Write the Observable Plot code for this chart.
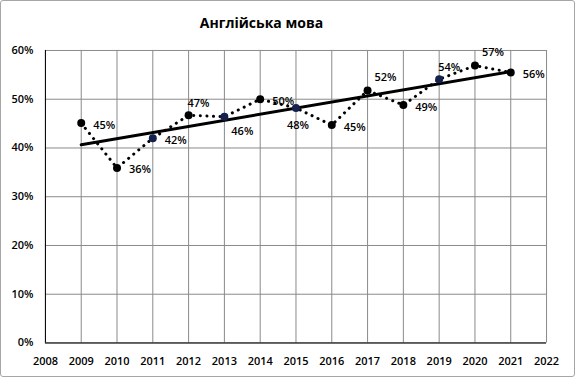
<!DOCTYPE html>
<html>
<head>
<meta charset="utf-8">
<script src="https://cdn.jsdelivr.net/npm/d3@7"></script>
<script src="https://cdn.jsdelivr.net/npm/@observablehq/plot@0.6"></script>
<style>
  html, body { margin: 0; padding: 0; background: #fff; }
  #wrap {
    position: relative; width: 575px; height: 377px; box-sizing: border-box;
    border: 1px solid #a6a6a6; border-radius: 3px; background: #fff; overflow: hidden;
  }
  #title {
    height: 40px; line-height: 44px; text-align: center; box-sizing: border-box;
    font-family: "Open Sans", sans-serif; font-weight: 700; font-size: 14px; color: #000;
    padding-right: 52px;
  }
  #chart { position: absolute; left: -1px; top: 39px; }
</style>
</head>
<body>
<div id="wrap">
  <div id="title">Англійська мова</div>
  <div id="chart"></div>
</div>
<script>
// Data
const years  = [2009, 2010, 2011, 2012, 2013, 2014, 2015, 2016, 2017, 2018, 2019, 2020, 2021];
const values = [0.451, 0.359, 0.420, 0.467, 0.464, 0.500, 0.482, 0.447, 0.518, 0.488, 0.541, 0.569, 0.555];
const labelPlacement = ["right", "right", "right", "up", "downRight", "right", "down", "right", "upRight", "right", "up", "upRight", "right"];
const xTicks = d3.range(2008, 2023);
const yTicks = [0, 0.1, 0.2, 0.3, 0.4, 0.5, 0.6];

// Style
const navyYears = new Set([2011, 2013, 2015, 2019]);
const offsets = {
  right: {dx: 23, dy: 2},
  up: {dx: 10, dy: -12},
  upRight: {dx: 18, dy: -13},
  downRight: {dx: 18, dy: 15},
  down: {dx: 2, dy: 18}
};

const data = years.map((year, i) => ({year, value: values[i], place: labelPlacement[i]}));
const pct = d3.format(".0%");

const labelMarks = Object.entries(offsets).map(([key, o]) =>
  Plot.text(data.filter(d => d.place === key), {
    x: "year", y: "value", text: d => pct(d.value),
    dx: o.dx, dy: o.dy, fill: "#000", fontSize: 11, fontWeight: 600, textAnchor: "middle"
  })
);

const chart = Plot.plot({
  width: 575,
  height: 338,
  marginLeft: 45,
  marginRight: 28,
  marginTop: 10,
  marginBottom: 35,
  style: {fontFamily: "'Open Sans', sans-serif", fontSize: "11px", color: "#000", background: "transparent", overflow: "visible"},
  x: {domain: [2008, 2022], ticks: xTicks, tickFormat: "d"},
  y: {domain: [0, 0.6], ticks: yTicks, tickFormat: ".0%"},
  marks: [
    Plot.gridX(xTicks, {stroke: "#8a8a8a", strokeOpacity: 1, strokeWidth: 1}),
    Plot.gridY(yTicks, {stroke: "#8a8a8a", strokeOpacity: 1, strokeWidth: 1}),
    Plot.ruleX([2008], {stroke: "#000", strokeWidth: 1}),
    Plot.ruleY([0], {stroke: "#000", strokeWidth: 1}),
    Plot.axisX({ticks: xTicks, tickFormat: "d", tickSize: 0, tickPadding: 14, label: null, fontWeight: 600}),
    Plot.axisY({ticks: yTicks, tickFormat: ".0%", tickSize: 0, tickPadding: 12, label: null, fontWeight: 600}),
    Plot.linearRegressionY(data, {x: "year", y: "value", ci: 0, stroke: "#000", strokeWidth: 3}),
    Plot.line(data, {x: "year", y: "value", stroke: "#000", strokeWidth: 3, strokeDasharray: "0.1 6.5", strokeLinecap: "round"}),
    Plot.dot(data, {x: "year", y: "value", r: 4, fill: d => navyYears.has(d.year) ? "#14214f" : "#000", stroke: "none"}),
    ...labelMarks
  ]
});
document.getElementById("chart").appendChild(chart);
</script>
</body>
</html>
